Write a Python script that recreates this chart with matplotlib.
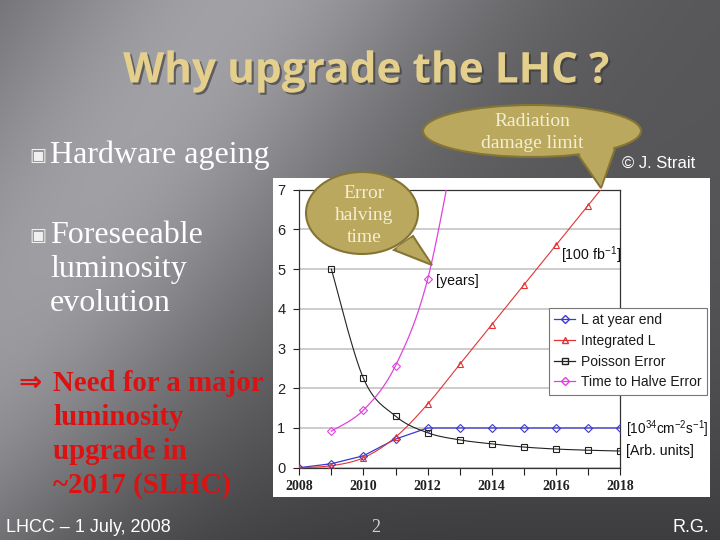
import numpy as np
import matplotlib
matplotlib.use('Agg')
import matplotlib.pyplot as plt
from matplotlib.patches import Ellipse, Polygon, Rectangle
from matplotlib.lines import Line2D
import matplotlib.patheffects as pe

plt.rcParams['mathtext.fontset'] = 'custom'
plt.rcParams['mathtext.rm'] = 'Liberation Sans'
plt.rcParams['mathtext.it'] = 'Liberation Sans'
plt.rcParams['mathtext.default'] = 'regular'

# ---------------- data ----------------
years = [2008, 2009, 2010, 2011, 2012, 2013, 2014, 2015, 2016, 2017, 2018]
l_year_end = [0.0, 0.1, 0.3, 0.72, 1.0, 1.0, 1.0, 1.0, 1.0, 1.0, 1.0]
integrated_l = [0.0, 0.05, 0.25, 0.77, 1.6, 2.6, 3.6, 4.6, 5.6, 6.6, 7.6]
poisson_years = [2009, 2010, 2011, 2012, 2013, 2014, 2015, 2016, 2017, 2018]
poisson_error = [5.0, 2.25, 1.3, 0.88, 0.7, 0.6, 0.52, 0.47, 0.44, 0.42]
halve_years = [2009, 2010, 2011, 2012, 2013]
halve_time = [0.92, 1.45, 2.57, 4.74, 8.8]
series_names = ['L at year end', 'Integrated L', 'Poisson Error', 'Time to Halve Error']
x_ticks = years
x_tick_labels = ['2008', '', '2010', '', '2012', '', '2014', '', '2016', '', '2018']
y_ticks = [0, 1, 2, 3, 4, 5, 6, 7]

title = 'Why upgrade the LHC ?'
bullets = ['Hardware ageing', 'Foreseeable\nluminosity\nevolution']
conclusion = ['Need for a major', 'luminosity', 'upgrade in', '~2017 (SLHC)']


def smooth(xs, ys, n=30):
    P = np.column_stack([np.asarray(xs, float), np.asarray(ys, float)])
    E = np.vstack([P[0], P, P[-1]])
    out = []
    t = np.linspace(0, 1, n)[:, None]
    for i in range(len(P) - 1):
        p0, p1, p2, p3 = E[i], E[i + 1], E[i + 2], E[i + 3]
        c1 = p1 + (p2 - p0) / 6.0
        c2 = p2 - (p3 - p1) / 6.0
        b = ((1 - t) ** 3) * p1 + 3 * ((1 - t) ** 2) * t * c1 + 3 * (1 - t) * t ** 2 * c2 + t ** 3 * p2
        out.append(b if i == 0 else b[1:])
    B = np.vstack(out)
    return B[:, 0], B[:, 1]


fig = plt.figure(figsize=(7.2, 5.4), dpi=100)

# ---------------- background ----------------
bg = fig.add_axes([0, 0, 1, 1], zorder=0)
W, H = 720, 540
yy, xx = np.mgrid[0:H, 0:W]
s = xx + 0.7 * yy
B = 0.34 + 0.29 * np.exp(-((s - 230) / 250.0) ** 2) - 0.10 * (yy / H) ** 3
B = np.clip(B, 0, 1)
img = np.dstack([B, B, np.clip(B * 1.03, 0, 1)])
bg.imshow(img, extent=[0, W, H, 0], aspect='auto', interpolation='bilinear')
bg.set_xlim(0, W)
bg.set_ylim(H, 0)
bg.axis('off')
bg.add_patch(Rectangle((273, 178), 437, 319, facecolor='white', edgecolor='none'))

# ---------------- chart ----------------
ax = fig.add_axes([0.4157, 0.1339, 0.4454, 0.5148], zorder=1)
ax.set_facecolor('white')
ax.set_xlim(2008, 2018)
ax.set_ylim(0, 7)
for y in y_ticks:
    ax.axhline(y, color='#c8c8c8', lw=1.3, zorder=0)

c_blue, c_red, c_black, c_mag = '#3a3acc', '#e03434', '#222222', '#dd44dd'
ms = 4.5
ax.plot(years, l_year_end, color=c_blue, lw=0.9, zorder=3)
ax.plot(years, l_year_end, ls='none', marker='D', ms=ms - 0.5, mfc='none', mec=c_blue, mew=0.8, zorder=4)
xs, ys = smooth(years, integrated_l)
ax.plot(xs, ys, color=c_red, lw=0.8, zorder=3)
ax.plot(years, integrated_l, ls='none', marker='^', ms=ms, mfc='none', mec=c_red, mew=0.8, zorder=4)
xs, ys = smooth(poisson_years, poisson_error)
ax.plot(xs, ys, color=c_black, lw=0.8, zorder=3)
ax.plot(poisson_years, poisson_error, ls='none', marker='s', ms=ms, mfc='none', mec=c_black, mew=0.8, zorder=4)
xs, ys = smooth(halve_years, halve_time)
ax.plot(xs, ys, color=c_mag, lw=0.9, zorder=3)
ax.plot(halve_years, halve_time, ls='none', marker='D', ms=ms - 0.5, mfc='none', mec=c_mag, mew=0.8, zorder=4)

ax.set_xticks(x_ticks)
ax.set_xticklabels(x_tick_labels, family='Liberation Serif', weight='bold', fontsize=10, color='#222222')
ax.set_yticks(y_ticks)
ax.set_yticklabels([str(v) for v in y_ticks], family='Liberation Sans', fontsize=10.5, color='#222222')
ax.tick_params(axis='x', direction='out', length=5, width=0.8, color='#222222', pad=4)
ax.tick_params(axis='y', direction='out', length=4, width=0.8, color='#222222', pad=6)
for sp in ax.spines.values():
    sp.set_color('#333333')
    sp.set_linewidth(0.9)

afont = dict(family='Liberation Sans', fontsize=10.2, color='#111111', va='center', ha='left', clip_on=False)
ax.text(2016.17, 5.36, r'[100 fb$^{-1}$]', **afont)
ax.text(2012.27, 4.70, '[years]', **afont)
ax.text(2018.2, 0.96, r'[10$^{34}$cm$^{-2}$s$^{-1}$]', **dict(afont, fontsize=9.8))
ax.text(2018.2, 0.42, '[Arb. units]', **afont)

handles = [
    Line2D([], [], color=c_blue, lw=0.9, marker='D', ms=ms - 0.5, mfc='none', mec=c_blue),
    Line2D([], [], color=c_red, lw=0.9, marker='^', ms=ms, mfc='none', mec=c_red),
    Line2D([], [], color=c_black, lw=0.9, marker='s', ms=ms, mfc='none', mec=c_black),
    Line2D([], [], color=c_mag, lw=0.9, marker='D', ms=ms - 0.5, mfc='none', mec=c_mag),
]
leg = fig.legend(handles, series_names, loc='upper left', bbox_to_anchor=(549 / 720, 1 - 308 / 540),
                 prop=dict(family='Liberation Sans', size=10.0), frameon=True, fancybox=False,
                 framealpha=1, edgecolor='#777777', handlelength=1.5, handletextpad=0.4,
                 borderpad=0.38, labelspacing=0.48, borderaxespad=0)
leg.get_frame().set_linewidth(0.8)
leg.set_zorder(5)
for t in leg.get_texts():
    t.set_color('#1a1a1a')

# ---------------- overlay (slide text, bubbles) ----------------
ov = fig.add_axes([0, 0, 1, 1], zorder=3)
ov.set_xlim(0, W)
ov.set_ylim(H, 0)
ov.axis('off')
ov.patch.set_alpha(0)

ov.text(366, 72, title, ha='center', va='center', fontsize=30.5, weight='bold', family='Open Sans',
        color='#e4d08c', path_effects=[pe.withSimplePatchShadow(offset=(1.5, -1.5), shadow_rgbFace='#333333', alpha=0.6)])

serif = ['Liberation Serif', 'DejaVu Serif']
ov.text(29, 156, '\u25a3', ha='left', va='center', fontsize=13, color='#f0f0f0', family='DejaVu Sans')
ov.text(50, 163, bullets[0], ha='left', va='baseline', fontsize=23, color='white', family=serif)
ov.text(29, 236, '\u25a3', ha='left', va='center', fontsize=13, color='#f0f0f0', family='DejaVu Sans')
for i, line in enumerate(bullets[1].split('\n')):
    ov.text(50, 243 + 34 * i, line, ha='left', va='baseline', fontsize=23, color='white', family=serif)

red = '#dc1212'
ov.text(18, 391, '\u21d2', ha='left', va='baseline', fontsize=20, weight='bold', color=red, family=['DejaVu Sans'])
for i, line in enumerate(conclusion):
    ov.text(53, 391 + 34 * i, line, ha='left', va='baseline', fontsize=20.8, weight='bold', color=red, family=serif)

ov.text(6, 532, 'LHCC \u2013 1 July, 2008', ha='left', va='baseline', fontsize=13, color='white', family='Liberation Sans')
ov.text(376, 532, '2', ha='center', va='baseline', fontsize=13, color='#d0d0d0', family='Liberation Serif')
ov.text(709, 532, 'R.G.', ha='right', va='baseline', fontsize=13, color='white', family='Liberation Sans')
ov.text(695, 163, '\u00a9 J. Strait', ha='right', va='center', fontsize=12, color='white', family='Liberation Sans')

fill, edge = '#b9a85d', '#857535'
# radiation bubble
ov.add_patch(Polygon([(576, 152), (601, 188), (616, 146)], closed=True, fc=fill, ec=edge, lw=1.5, zorder=2))
ov.add_patch(Ellipse((532, 131), 218, 52, fc=fill, ec=edge, lw=1.5, zorder=3))
ov.add_patch(Polygon([(578, 151), (601, 186), (614, 146)], closed=True, fc=fill, ec='none', zorder=4))
ov.text(532, 121, 'Radiation', ha='center', va='center', fontsize=14, color='#f4eed4', family=serif, zorder=5)
ov.text(532, 143, 'damage limit', ha='center', va='center', fontsize=14, color='#f4eed4', family=serif, zorder=5)
# error bubble
ov.add_patch(Polygon([(394, 250), (432, 265), (413, 236)], closed=True, fc=fill, ec=edge, lw=1.5, zorder=2))
ov.add_patch(Ellipse((362, 213), 112, 82, fc=fill, ec=edge, lw=1.5, zorder=3))
ov.add_patch(Polygon([(396, 248), (430, 263), (411, 238)], closed=True, fc=fill, ec='none', zorder=4))
for i, line in enumerate(['Error', 'halving', 'time']):
    ov.text(364, 194 + 21.5 * i, line, ha='center', va='center', fontsize=14, color='#f4eed4', family=serif, zorder=5)

fig.savefig('out.png', dpi=100)
